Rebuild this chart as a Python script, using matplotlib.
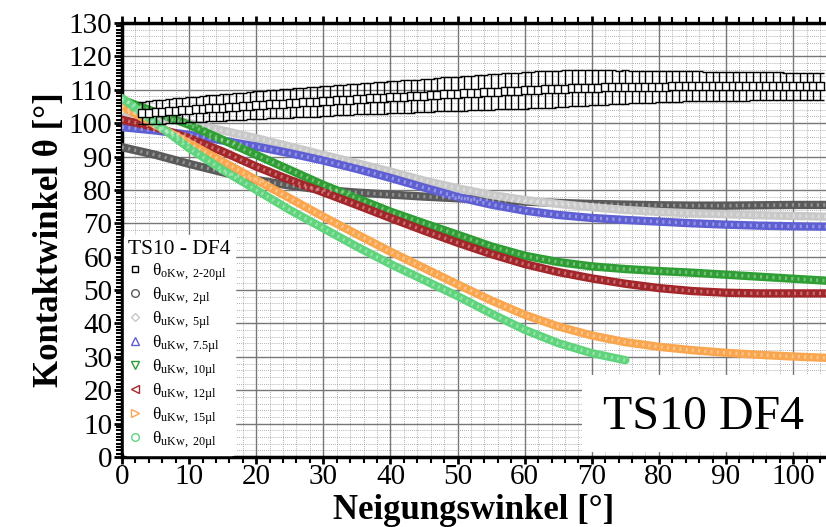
import numpy as np
import matplotlib
matplotlib.use("Agg")
from matplotlib import pyplot as plt
from matplotlib.lines import Line2D
from matplotlib.patches import Rectangle
from matplotlib.ticker import MultipleLocator

# ---- data ----
# oKw (upper contact angle), 2-20 ul, mean with error bar
okw_x = list(range(3, 105))
okw_y = [103.0, 103.1, 103.3, 103.4, 103.5, 103.7, 103.8, 104.0, 104.1, 104.2,
         104.4, 104.5, 104.6, 104.8, 104.9, 105.0, 105.2, 105.3, 105.4, 105.6,
         105.7, 105.8, 105.9, 106.1, 106.2, 106.3, 106.4, 106.6, 106.7, 106.8,
         106.9, 107.0, 107.2, 107.3, 107.4, 107.5, 107.6, 107.7, 107.8, 107.9,
         108.0, 108.1, 108.2, 108.3, 108.5, 108.6, 108.7, 108.8, 108.9, 109.0,
         109.1, 109.2, 109.3, 109.4, 109.5, 109.6, 109.7, 109.8, 109.9, 110.0,
         110.1, 110.1, 110.2, 110.3, 110.4, 110.5, 110.5, 110.6, 110.6, 110.7,
         110.7, 110.7, 110.8, 110.8, 110.8, 110.9, 110.9, 110.9, 110.9, 111.0,
         111.0, 111.0, 111.0, 111.0, 111.0, 111.0, 111.0, 111.0, 111.0, 111.0,
         111.0, 111.0, 111.0, 111.0, 111.0, 111.0, 111.0, 111.0, 111.0, 111.0,
         111.0, 111.0]
okw_err = [3.4, 3.5, 3.5, 3.6, 3.6, 3.7, 3.7, 3.8, 3.8, 3.9,
           3.9, 4.0, 4.0, 4.0, 4.1, 4.1, 4.1, 4.2, 4.2, 4.2,
           4.3, 4.3, 4.3, 4.4, 4.4, 4.4, 4.5, 4.5, 4.5, 4.5,
           4.6, 4.6, 4.6, 4.7, 4.7, 4.7, 4.8, 4.8, 4.8, 4.9,
           4.9, 4.9, 5.0, 5.0, 5.0, 5.1, 5.1, 5.1, 5.2, 5.2,
           5.2, 5.3, 5.3, 5.3, 5.4, 5.4, 5.4, 5.5, 5.5, 5.5,
           5.5, 5.5, 5.5, 5.5, 5.4, 5.4, 5.3, 5.3, 5.2, 5.2,
           5.1, 5.0, 5.0, 4.9, 4.9, 4.8, 4.8, 4.7, 4.7, 4.6,
           4.6, 4.5, 4.5, 4.5, 4.4, 4.4, 4.4, 4.3, 4.3, 4.3,
           4.3, 4.2, 4.2, 4.2, 4.2, 4.2, 4.1, 4.1, 4.1, 4.1,
           4.1, 4.1]

# uKw (lower contact angle) per droplet volume
angle = [0, 5, 10, 15, 20, 25, 30, 35, 40, 45, 50,
         55, 60, 65, 70, 75, 80, 85, 90, 95, 100, 105]
ukw_2 = [92.8, 90.5, 87.8, 85.3, 83.0, 81.3, 80.0, 79.2, 78.6, 78.0, 77.5,
         77.0, 76.5, 76.1, 75.8, 75.6, 75.4, 75.3, 75.3, 75.4, 75.5, 75.5]
ukw_5 = [103.5, 102.0, 100.0, 97.8, 95.5, 93.0, 90.5, 88.0, 85.5, 82.8, 80.5,
         78.5, 77.0, 75.8, 74.8, 74.0, 73.4, 73.0, 72.7, 72.4, 72.2, 72.0]
ukw_75 = [98.8, 97.8, 96.5, 94.8, 93.0, 91.0, 88.8, 86.3, 83.6, 80.7, 77.9,
          75.6, 73.8, 72.5, 71.6, 71.0, 70.5, 70.0, 69.6, 69.3, 69.1, 69.0]
ukw_10 = [107.0, 103.3, 99.5, 95.0, 90.5, 86.0, 81.5, 77.5, 73.5, 70.0, 66.6,
          63.1, 60.3, 58.4, 57.1, 56.3, 55.7, 55.2, 54.6, 54.0, 53.4, 52.8]
ukw_12 = [101.0, 98.8, 95.5, 91.5, 87.0, 83.0, 79.3, 75.5, 71.6, 67.8, 64.2,
          60.8, 57.8, 55.4, 53.5, 51.9, 50.6, 49.7, 49.2, 49.0, 49.0, 49.0]
ukw_15 = [105.0, 99.5, 94.0, 88.5, 83.0, 77.5, 72.0, 66.7, 61.5, 56.6, 51.7,
          46.9, 42.6, 39.1, 36.4, 34.4, 33.0, 32.0, 31.2, 30.6, 30.1, 29.7]
angle_20 = [0, 5, 10, 15, 20, 25, 30, 35, 40, 45, 50, 55, 60, 65, 70, 75]
ukw_20 = [107.5, 100.0, 92.5, 86.0, 80.0, 74.0, 68.5, 63.0, 57.8, 53.0, 48.2,
          43.0, 38.1, 34.1, 31.1, 29.0]

series = [
    (angle, ukw_2, "#5a5a5a", "o", r"$\mathrm{\theta_{uKw,\ 2µl}}$"),
    (angle, ukw_5, "#c9c9c9", "D", r"$\mathrm{\theta_{uKw,\ 5µl}}$"),
    (angle, ukw_75, "#5f5fd4", "^", r"$\mathrm{\theta_{uKw,\ 7.5µl}}$"),
    (angle, ukw_10, "#2f9e35", "v", r"$\mathrm{\theta_{uKw,\ 10µl}}$"),
    (angle, ukw_12, "#a3262a", "<", r"$\mathrm{\theta_{uKw,\ 12µl}}$"),
    (angle, ukw_15, "#f9a64f", ">", r"$\mathrm{\theta_{uKw,\ 15µl}}$"),
    (angle_20, ukw_20, "#5fd47d", "o", r"$\mathrm{\theta_{uKw,\ 20µl}}$"),
]

plt.rcParams["font.family"] = ["Liberation Serif", "DejaVu Serif"]
plt.rcParams["mathtext.fontset"] = "custom"
plt.rcParams["mathtext.rm"] = "Liberation Serif"
plt.rcParams["mathtext.it"] = "Liberation Serif"

fig = plt.figure(figsize=(8.26, 5.27), dpi=100)
ax = fig.add_axes([122 / 826, 70 / 527, 704 / 826, 434 / 527])

# grid: solid every 10, dotted every 2
for v in np.arange(0, 106, 2):
    ax.axvline(v, color="#999999", lw=0.6, ls=(0, (1, 1.5)), zorder=0)
for v in np.arange(0, 131, 2):
    ax.axhline(v, color="#999999", lw=0.6, ls=(0, (1, 1.5)), zorder=0)
for v in np.arange(10, 106, 10):
    ax.axvline(v, color="#777777", lw=1.0, zorder=0.5)
for v in np.arange(10, 131, 10):
    ax.axhline(v, color="#777777", lw=1.0, zorder=0.5)

# the uKw curves are dense chains of open markers -> thick bands
for xs, ys, col, mk, lab in series:
    ax.plot(xs, ys, color=col, lw=6, solid_capstyle="round",
            solid_joinstyle="round", zorder=3)
    ax.plot(xs, ys, color="white", lw=2.5, alpha=0.35,
            ls=(0, (0.6, 1.2)), zorder=3.1)

# oKw with error bars
ax.errorbar(okw_x, okw_y, yerr=okw_err, fmt="s", ms=5.5, mfc="white",
            mec="black", mew=1.0, ecolor="black", elinewidth=1.0,
            capsize=3, capthick=1.0, zorder=4)

ax.set_xlim(0, 104.9)
ax.set_ylim(0, 130)
ax.xaxis.set_major_locator(MultipleLocator(10))
ax.xaxis.set_minor_locator(MultipleLocator(2))
ax.yaxis.set_major_locator(MultipleLocator(10))
ax.yaxis.set_minor_locator(MultipleLocator(1))
ax.tick_params(axis="both", which="major", labelsize=21, width=2, length=6,
               direction="out", pad=1)
ax.tick_params(axis="both", which="minor", width=1.5, length=4, direction="out")
ax.tick_params(axis="x", which="both", top=True, labeltop=False)
ax.tick_params(axis="x", which="major", length=5, pad=0)
for side in ["left", "bottom", "top"]:
    ax.spines[side].set_linewidth(2.5)
ax.spines["right"].set_visible(False)

ax.set_xlabel("Neigungswinkel [°]", fontsize=25, fontweight="bold",
              va="baseline")
ax.xaxis.set_label_coords(0.5, -62 / 434)
ax.set_ylabel("Kontaktwinkel θ [°]", fontsize=25, fontweight="bold", labelpad=2)

# legend
handles = [Line2D([], [], ls="none", marker="s", ms=5, mfc="none",
                  mec="black", mew=1.0)]
labels = [r"$\mathrm{\theta_{oKw,\ 2‐20µl}}$"]
for xs, ys, col, mk, lab in series:
    handles.append(Line2D([], [], ls="none", marker=mk,
                          ms=4 if mk == "D" else 5.5,
                          mfc="none", mec=col, mew=1.0))
    labels.append(lab)
leg = ax.legend(handles, labels, title="TS10 - DF4", loc="lower left",
                bbox_to_anchor=(0.0, 0.0), borderaxespad=0.1,
                fontsize=12.5, title_fontsize=15.5, frameon=True,
                labelspacing=0.14, handlelength=0.8, handletextpad=0.6,
                borderpad=0.25, alignment="left")
leg.get_frame().set_facecolor("white")
leg.get_frame().set_edgecolor("white")
leg.get_frame().set_alpha(1.0)
leg.set_zorder(6)

# sample name box in the lower right
ax.add_patch(Rectangle((0.653, 0.012), 0.36, 0.177, transform=ax.transAxes,
                       facecolor="white", edgecolor="none", zorder=7))
ax.text(0.826, 0.093, "TS10 DF4", transform=ax.transAxes, fontsize=34.5,
        ha="center", va="center", zorder=8)

fig.savefig("out.png", dpi=100)
